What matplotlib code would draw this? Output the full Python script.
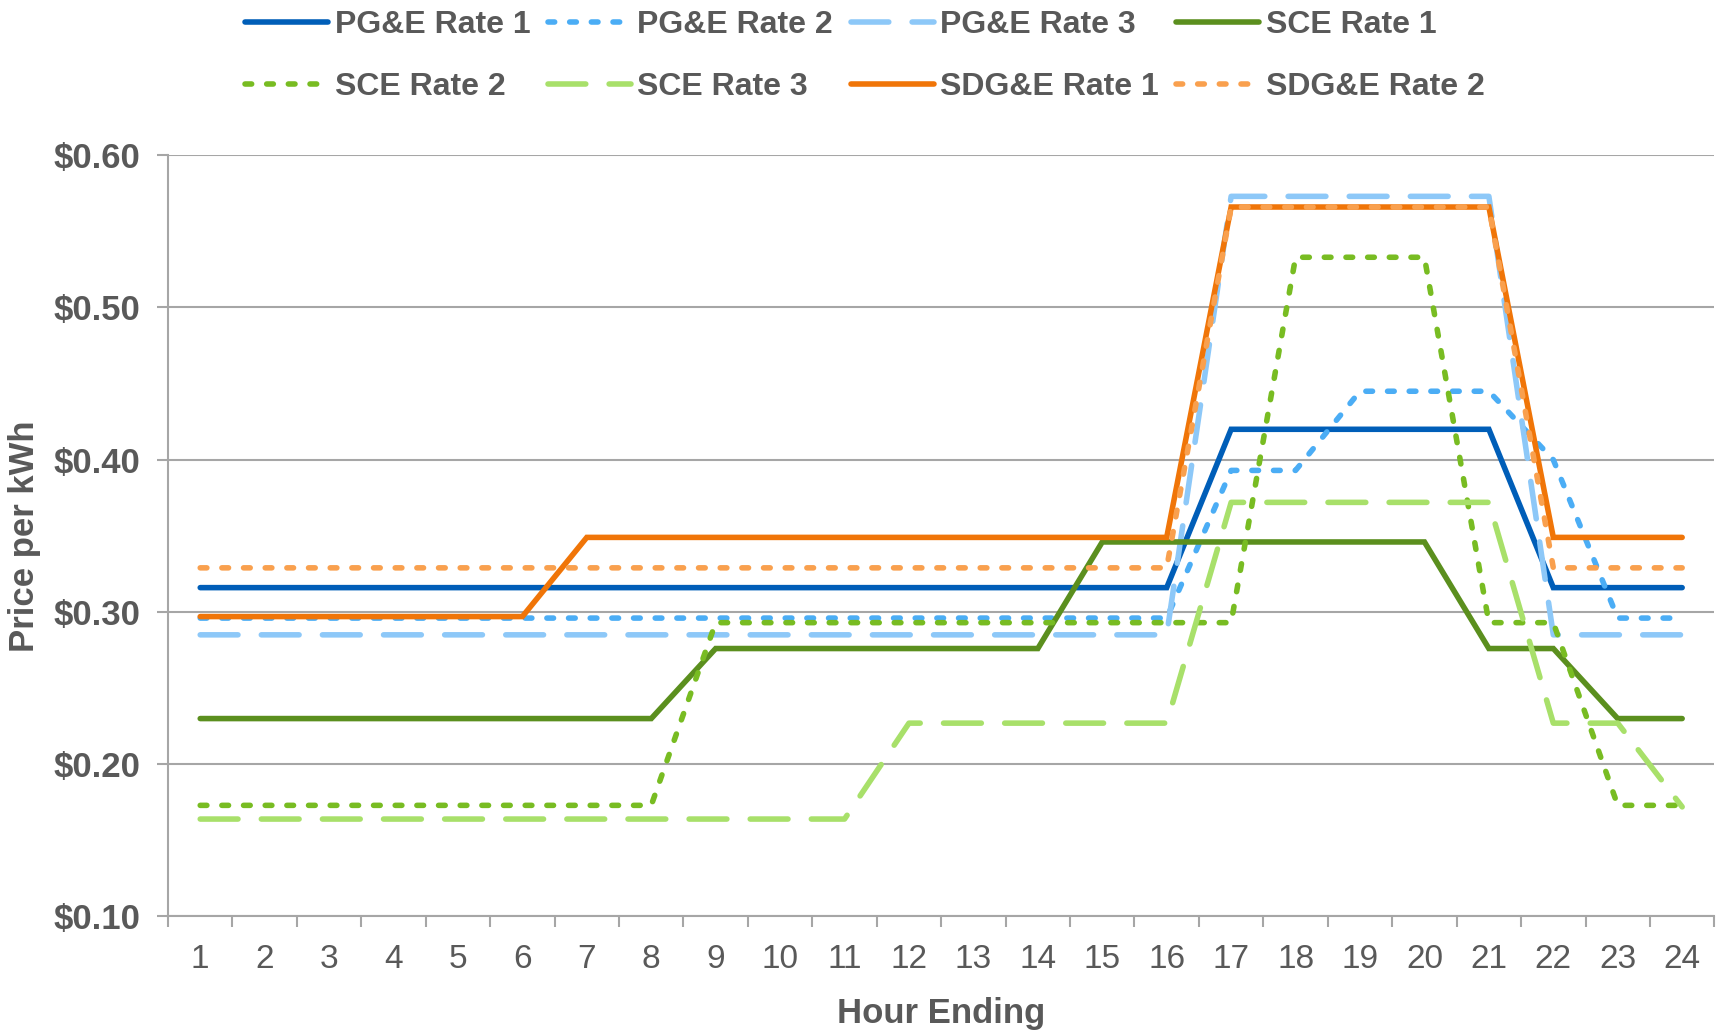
import matplotlib
matplotlib.use('Agg')
import matplotlib.pyplot as plt
from matplotlib.ticker import FuncFormatter, MultipleLocator

plt.rcParams['font.family'] = ['Liberation Sans Narrow', 'Liberation Sans', 'DejaVu Sans']

# 数据
hours = [1, 2, 3, 4, 5, 6, 7, 8, 9, 10, 11, 12, 13, 14, 15, 16, 17, 18, 19, 20, 21, 22, 23, 24]

pge_rate1 = [0.316, 0.316, 0.316, 0.316, 0.316, 0.316, 0.316, 0.316, 0.316, 0.316, 0.316, 0.316,
             0.316, 0.316, 0.316, 0.316, 0.420, 0.420, 0.420, 0.420, 0.420, 0.316, 0.316, 0.316]
pge_rate2 = [0.296, 0.296, 0.296, 0.296, 0.296, 0.296, 0.296, 0.296, 0.296, 0.296, 0.296, 0.296,
             0.296, 0.296, 0.296, 0.296, 0.393, 0.393, 0.445, 0.445, 0.445, 0.400, 0.296, 0.296]
pge_rate3 = [0.285, 0.285, 0.285, 0.285, 0.285, 0.285, 0.285, 0.285, 0.285, 0.285, 0.285, 0.285,
             0.285, 0.285, 0.285, 0.285, 0.573, 0.573, 0.573, 0.573, 0.573, 0.285, 0.285, 0.285]
sce_rate1 = [0.230, 0.230, 0.230, 0.230, 0.230, 0.230, 0.230, 0.230, 0.276, 0.276, 0.276, 0.276,
             0.276, 0.276, 0.346, 0.346, 0.346, 0.346, 0.346, 0.346, 0.276, 0.276, 0.230, 0.230]
sce_rate2 = [0.173, 0.173, 0.173, 0.173, 0.173, 0.173, 0.173, 0.173, 0.293, 0.293, 0.293, 0.293,
             0.293, 0.293, 0.293, 0.293, 0.293, 0.533, 0.533, 0.533, 0.293, 0.293, 0.173, 0.173]
sce_rate3 = [0.164, 0.164, 0.164, 0.164, 0.164, 0.164, 0.164, 0.164, 0.164, 0.164, 0.164, 0.227,
             0.227, 0.227, 0.227, 0.227, 0.372, 0.372, 0.372, 0.372, 0.372, 0.227, 0.227, 0.172]
sdge_rate1 = [0.297, 0.297, 0.297, 0.297, 0.297, 0.297, 0.349, 0.349, 0.349, 0.349, 0.349, 0.349,
              0.349, 0.349, 0.349, 0.349, 0.566, 0.566, 0.566, 0.566, 0.566, 0.349, 0.349, 0.349]
sdge_rate2 = [0.329, 0.329, 0.329, 0.329, 0.329, 0.329, 0.329, 0.329, 0.329, 0.329, 0.329, 0.329,
              0.329, 0.329, 0.329, 0.329, 0.566, 0.566, 0.566, 0.566, 0.566, 0.329, 0.329, 0.329]

series_labels = ['PG&E Rate 1', 'PG&E Rate 2', 'PG&E Rate 3', 'SCE Rate 1',
                 'SCE Rate 2', 'SCE Rate 3', 'SDG&E Rate 1', 'SDG&E Rate 2']

# 样式
text_color = '#595959'
grid_color = '#A6A6A6'
lw = 4.0
dotted = (0, (1.2, 2.7))
long_dash = (0, (6.8, 4.2))
styles = [
    ('#005EB8', '-'),
    ('#4BADF5', dotted),
    ('#8DC8F8', long_dash),
    ('#5B8F1E', '-'),
    ('#78BC22', dotted),
    ('#A8E06A', long_dash),
    ('#F07508', '-'),
    ('#F9A04E', dotted),
]

all_series = [pge_rate1, pge_rate2, pge_rate3, sce_rate1, sce_rate2, sce_rate3, sdge_rate1, sdge_rate2]

fig = plt.figure(figsize=(17.23, 10.35), dpi=100)
ax = fig.add_axes([0.0975, 0.1145, 0.8975, 0.7355])

lines = []
for values, label, (color, ls) in zip(all_series, series_labels, styles):
    ln, = ax.plot(hours, values, color=color, linestyle=ls, linewidth=lw, label=label,
                  solid_capstyle='round', dash_capstyle='round', solid_joinstyle='miter')
    lines.append(ln)

ax.set_xlim(0.5, 24.5)
ax.set_ylim(0.10, 0.60)

# 网格和坐标轴
ax.yaxis.set_major_locator(MultipleLocator(0.1))
ax.yaxis.set_major_formatter(FuncFormatter(lambda v, p: f'${v:.2f}'))
ax.grid(axis='y', color=grid_color, linewidth=1.5)
ax.set_axisbelow(True)
for s in ['top', 'right']:
    ax.spines[s].set_visible(False)
for s in ['left', 'bottom']:
    ax.spines[s].set_color(grid_color)
    ax.spines[s].set_linewidth(1.5)

ax.set_xticks(hours)
ax.set_xticks([h + 0.5 for h in [0] + hours], minor=True)
ax.tick_params(axis='x', which='major', length=0, pad=20, labelsize=24, labelcolor=text_color)
ax.tick_params(axis='x', which='minor', length=8, width=1.5, color=grid_color)
ax.tick_params(axis='y', which='major', length=8, width=1.5, color=grid_color, pad=12,
               labelsize=25, labelcolor=text_color)
for t in ax.get_yticklabels():
    t.set_fontweight('bold')

ax.set_xlabel('Hour Ending', fontsize=25, fontweight='bold', color=text_color)
ax.set_ylabel('Price per kWh', fontsize=25, fontweight='bold', color=text_color)
ax.xaxis.set_label_coords(0.5, -0.106)
ax.yaxis.set_label_coords(-0.082, 0.5)

# 图例 (按行排列)
order = [0, 4, 1, 5, 2, 6, 3, 7]
leg = fig.legend([lines[i] for i in order], [series_labels[i] for i in order],
                 loc='upper center', bbox_to_anchor=(0.502, 0.993), ncol=4, frameon=False,
                 handlelength=2.6, handletextpad=0.2, columnspacing=0.55, labelspacing=1.0,
                 borderpad=0.1, borderaxespad=0,
                 prop={'size': 23, 'weight': 'bold'})
for t in leg.get_texts():
    t.set_color(text_color)

fig.savefig('out.png', dpi=100)
